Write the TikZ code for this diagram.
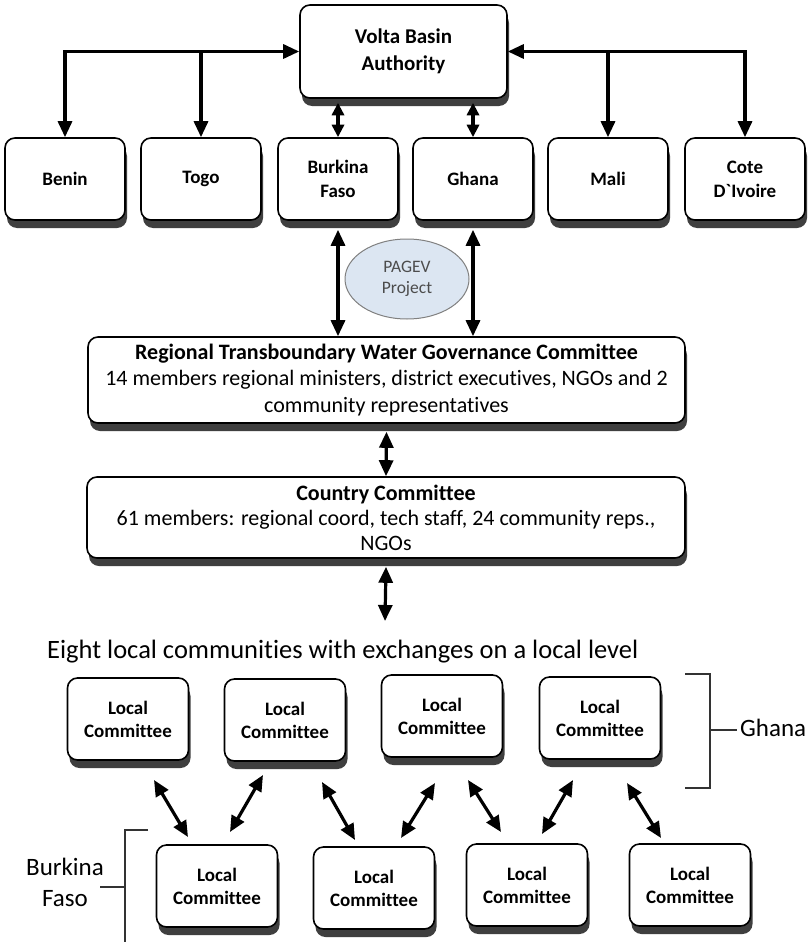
\documentclass[tikz,border=0pt]{standalone}
\usepackage{fontspec}
\setmainfont{Carlito}[Ligatures=NoCommon]
\usetikzlibrary{arrows.meta,shadows,calc,shapes.geometric}
\definecolor{pagevfill}{HTML}{DCE6F2}
\definecolor{shadowgray}{HTML}{3F3F3F}
\begin{document}
\begin{tikzpicture}[x=1pt,y=-1pt,
  box/.style={draw=black, line width=1.6pt, rounded corners=10pt, fill=white, align=center,
    font=\bfseries, inner sep=1pt,
    drop shadow={shadow xshift=2pt, shadow yshift=-8pt, fill=shadowgray, opacity=1}},
  ctry/.style={box, minimum width=120pt, minimum height=82pt, font=\bfseries\fontsize{19}{24}\selectfont},
  loc/.style={box, minimum width=121pt, minimum height=82pt, font=\bfseries\fontsize{19}{23}\selectfont},
  tipA/.tip={Triangle[length=16pt,width=14pt]},
  tipB/.tip={Triangle[length=12.5pt,width=12pt]},
  arr/.style={line width=3.2pt, -tipA},
  darr/.style={line width=3.2pt, tipA-tipA},
  darrs/.style={line width=3.2pt, tipB-tipB},
  brk/.style={line width=1.2pt, draw=black!80},
  lbl/.style={align=center, inner sep=0pt}
]
\useasboundingbox[fill=white] (0,0) rectangle (811,942);

% top
\node[box, minimum width=207pt, minimum height=93pt, font=\bfseries\fontsize{21}{27}\selectfont] (volta) at (403.5,51.5) {Volta Basin\\Authority};

\node[ctry] (benin) at (65,179) {Benin};
\node[ctry] (togo) at (201,179) {Togo};
\node[ctry] (burkina) at (338,179) {Burkina\\Faso};
\node[ctry] (ghana) at (473,179) {Ghana};
\node[ctry] (mali) at (608,179) {Mali};
\node[ctry] (cote) at (745,179) {Cote\\D\textasciigrave Ivoire};

\draw[darr] (volta.west) -| (benin.north);
\draw[arr] (togo.north |- volta.west) -- (togo.north);
\draw[darr] (volta.east) -| (cote.north);
\draw[arr] (mali.north |- volta.east) -- (mali.north);

\draw[darrs] ([yshift=-4pt]burkina.north |- volta.south) -- (burkina.north);
\draw[darrs] ([yshift=-4pt]ghana.north |- volta.south) -- (ghana.north);

% PAGEV
\node[ellipse, draw=black!50, line width=1pt, fill=pagevfill, minimum width=124pt, minimum height=80pt,
  align=center, font=\fontsize{17.5}{21}\selectfont, text=black!70] (pagev) at (407,279) {PAGEV\\Project};

% regional
\node[box, minimum width=597pt, minimum height=86pt, font=\fontsize{22}{26.5}\selectfont] (regional) at (386.5,380)
 {\textbf{Regional Transboundary Water Governance Committee}\\
  14 members regional ministers, district executives, NGOs and 2\\
  community representatives};

\draw[darr] ([yshift=-9pt]burkina.south) -- (burkina.south |- regional.north);
\draw[darr] ([yshift=-9pt]ghana.south) -- (ghana.south |- regional.north);

% country committee
\node[box, minimum width=598pt, minimum height=81pt, font=\fontsize{22}{25}\selectfont] (country) at (386,517.5)
 {\textbf{Country Committee}\\
  61 members: regional coord, tech staff, 24 community reps.,\\
  NGOs};

\draw[darr] ([yshift=-8pt]regional.south) -- (country.north);

\node[lbl, anchor=base west, font=\fontsize{26.5}{30}\selectfont] (eight) at (47,658) {Eight local communities with exchanges on a local level};
\coordinate (etip) at (385,621);
\draw[darr] ([yshift=-8pt]country.south) -- (etip);

% local committees
\node[loc] (t1) at (128,719) {Local\\Committee};
\node[loc] (t2) at (285,720) {Local\\Committee};
\node[loc] (t3) at (442,716) {Local\\Committee};
\node[loc] (t4) at (600,718) {Local\\Committee};

\node[loc] (b1) at (217,886) {Local\\Committee};
\node[loc] (b2) at (374,888) {Local\\Committee};
\node[loc] (b3) at (527,885) {Local\\Committee};
\node[loc] (b4) at (690,885) {Local\\Committee};

% diagonal connectors
\coordinate (a1s) at (154,780); \coordinate (a1e) at (188,837);
\coordinate (a2s) at (230,832); \coordinate (a2e) at (263,775);
\coordinate (a3s) at (322,782); \coordinate (a3e) at (355,840);
\coordinate (a4s) at (401,838); \coordinate (a4e) at (435,783);
\coordinate (a5s) at (468,780); \coordinate (a5e) at (501,832);
\coordinate (a6s) at (542,834); \coordinate (a6e) at (573,780);
\coordinate (a7s) at (627,783); \coordinate (a7e) at (661,838);
\foreach \i in {1,...,7} {\draw[darr] (a\i s) -- (a\i e);}

% Ghana bracket
\coordinate (g1) at (685,674); \coordinate (g2) at (710,674);
\coordinate (g3) at (710,788); \coordinate (g4) at (685,788);
\coordinate (gm) at (710,730); \coordinate (gt) at (737,730);
\draw[brk] (g1) -- (g2) -- (g3) -- (g4);
\draw[brk] (gm) -- (gt);
\node[lbl, anchor=base west, font=\fontsize{25}{30}\selectfont] (ghanalbl) at (740,736) {Ghana};

% Burkina bracket
\coordinate (f1) at (148,830); \coordinate (f2) at (125,830);
\coordinate (f3) at (125,942); \coordinate (fm) at (125,887); \coordinate (ft) at (100,887);
\draw[brk] (f1) -- (f2) -- (f3);
\draw[brk] (fm) -- (ft);
\node[lbl, anchor=base, font=\fontsize{25}{31}\selectfont] (bflbl) at (65,906) {Burkina\\Faso};
\end{tikzpicture}
\end{document}
